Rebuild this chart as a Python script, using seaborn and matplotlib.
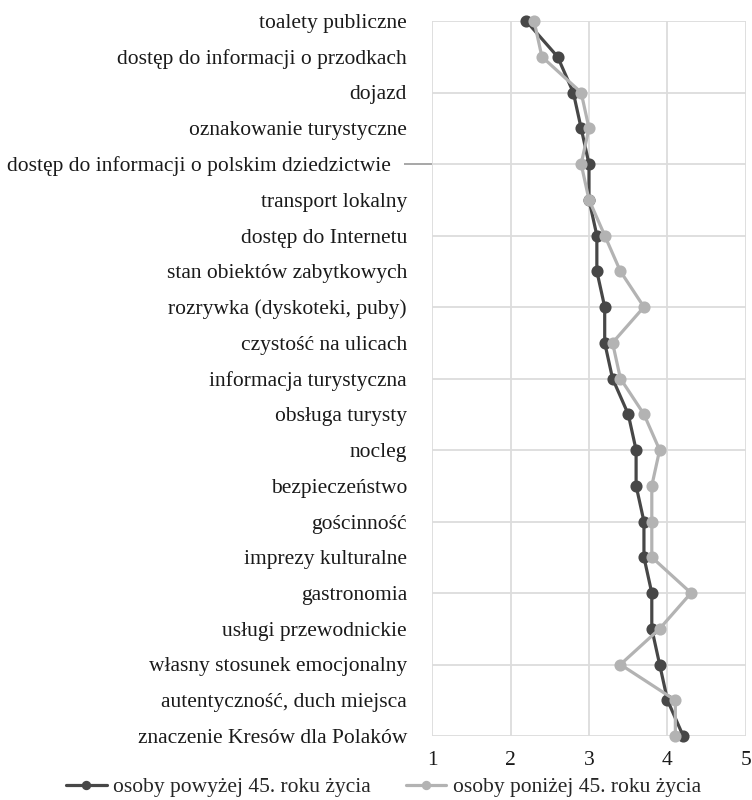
import seaborn as sns
import matplotlib.pyplot as plt
import pandas as pd

sns.set_style("white")
plt.rcParams["font.family"] = ["Liberation Serif", "DejaVu Serif"]

## dane
kategorie = [
    "toalety publiczne",
    "dostęp do informacji o przodkach",
    "dojazd",
    "oznakowanie turystyczne",
    "dostęp do informacji o polskim dziedzictwie   ",
    "transport lokalny",
    "dostęp do Internetu",
    "stan obiektów zabytkowych",
    "rozrywka (dyskoteki, puby)",
    "czystość na ulicach",
    "informacja turystyczna",
    "obsługa turysty",
    "nocleg",
    "bezpieczeństwo",
    "gościnność",
    "imprezy kulturalne",
    "gastronomia",
    "usługi przewodnickie",
    "własny stosunek emocjonalny",
    "autentyczność, duch miejsca",
    "znaczenie Kresów dla Polaków",
]
powyzej_45 = [2.2, 2.6, 2.8, 2.9, 3.0, 3.0, 3.1, 3.1, 3.2, 3.2, 3.3,
              3.5, 3.6, 3.6, 3.7, 3.7, 3.8, 3.8, 3.9, 4.0, 4.2]
ponizej_45 = [2.3, 2.4, 2.9, 3.0, 2.9, 3.0, 3.2, 3.4, 3.7, 3.3, 3.4,
              3.7, 3.9, 3.8, 3.8, 3.8, 4.3, 3.9, 3.4, 4.1, 4.1]
grupy = ["osoby powyżej 45. roku życia", "osoby poniżej 45. roku życia"]
x_ticks = [1, 2, 3, 4, 5]

df = pd.concat([
    pd.DataFrame({"kategoria": kategorie, "ocena": powyzej_45, "grupa": grupy[0]}),
    pd.DataFrame({"kategoria": kategorie, "ocena": ponizej_45, "grupa": grupy[1]}),
])

fs = 15.5

fig = plt.figure(figsize=(7.52, 8), dpi=100)
ax = fig.add_axes([0.5745, 0.08, 0.4175, 0.89375])

sns.pointplot(data=df, x="ocena", y="kategoria", hue="grupa", hue_order=grupy,
              order=kategorie, palette=["#474747", "#b3b3b3"], markers="o",
              markersize=7, linewidth=2.3, errorbar=None, orient="h", ax=ax)

for line in ax.lines:
    line.set_clip_on(False)

# siatka
ax.set_xlim(1, 5)
ax.set_ylim(len(kategorie) - 1, 0)
ax.set_xticks(x_ticks)
ax.grid(axis="x", color="#dcdcdc", linewidth=1.3, zorder=0)
for i in range(0, len(kategorie), 2):
    ax.axhline(i, color="#dcdcdc", linewidth=1.3, zorder=0)
ax.set_axisbelow(True)
for s in ax.spines.values():
    s.set_visible(False)

ax.set_xlabel("")
ax.set_ylabel("")
ax.tick_params(axis="y", length=0, pad=18, labelsize=fs, labelcolor="#1a1a1a")
ax.tick_params(axis="x", length=0, pad=11, labelsize=fs, labelcolor="#1a1a1a")
# pojedynczy znacznik przy kategorii 5
t = ax.yaxis.get_major_ticks()[4]
t.tick1line.set_visible(True)
t.tick1line.set_markersize(20)
t.tick1line.set_markeredgewidth(1.3)
t.tick1line.set_markeredgecolor("#a0a0a0")

handles, labels = ax.get_legend_handles_labels()
ax.get_legend().remove()
leg = fig.legend(handles, labels, loc="center", bbox_to_anchor=(0.51, 0.016),
                 ncol=2, frameon=False, fontsize=fs, handlelength=1.9,
                 handletextpad=0.3, columnspacing=1.6)
for h in leg.legend_handles:
    h.set_markersize(5)

fig.savefig("out.png", dpi=100)
